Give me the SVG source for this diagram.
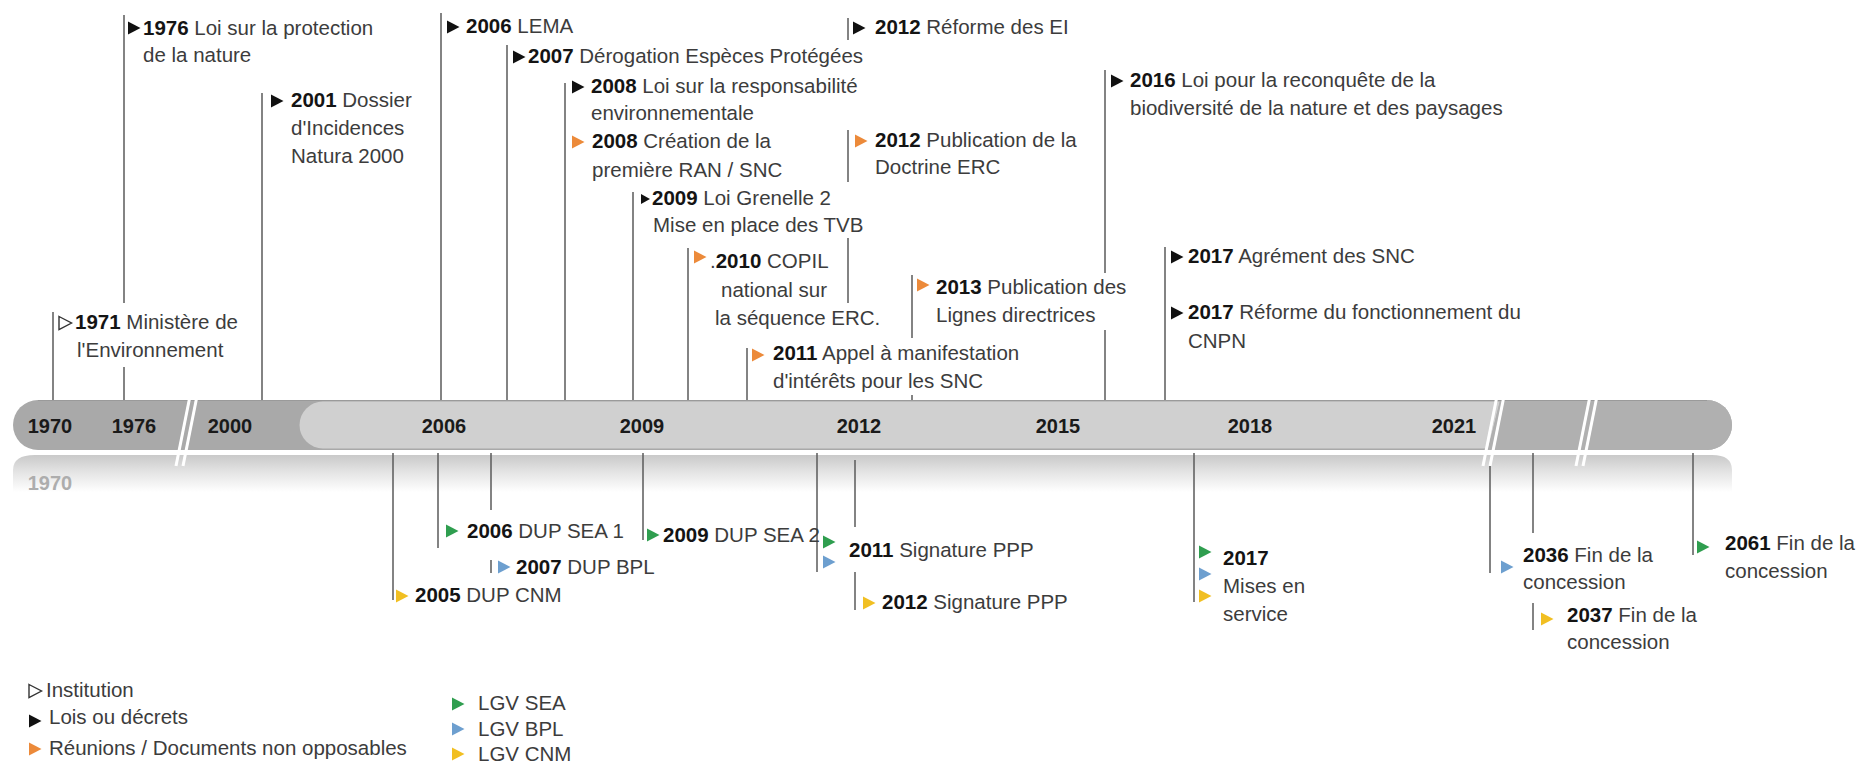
<svg xmlns="http://www.w3.org/2000/svg" width="1861" height="766" viewBox="0 0 1861 766">
<style>
text{font-family:"Liberation Sans",Arial,sans-serif;font-size:20.5px;fill:#3c3c3c}
.b{font-weight:bold;fill:#141414}
.yr{font-weight:bold;fill:#1a1a1a;font-size:20px;text-anchor:middle}
.ref{font-weight:bold;fill:#adadad;font-size:20px;text-anchor:middle}
.c line{stroke:#5a5a5a;stroke-width:1.5}
.k{fill:#111}
.o{fill:#ec8a3a}
.g{fill:#2f9e4f}
.bl{fill:#6d9fcf}
.y{fill:#f1bf22}
.h{fill:#fff;stroke:#333;stroke-width:1.4}
.brk{stroke:#fff;stroke-width:3}
</style>
<defs>
<path id="tri" d="M0 -6.5 L12.5 0 L0 6.5 Z"/>
<path id="trs" d="M0 -5 L9 0 L0 5 Z"/>
<linearGradient id="refl" x1="0" y1="0" x2="0" y2="1">
<stop offset="0" stop-color="#c9c9c9"/>
<stop offset="0.5" stop-color="#e6e6e6"/>
<stop offset="1" stop-color="#ffffff"/>
</linearGradient>
</defs>
<rect width="1861" height="766" fill="#fff"/>

<g id="timeline-bar">
<path d="M35 455 H1712 Q1732 455 1732 470 V492 H13 V470 Q13 455 35 455 Z" fill="url(#refl)"/>
<rect x="13" y="400" width="1719" height="50" rx="25" fill="#a9a9a9"/>
<path d="M323 401.5 H1500 L1488 448.5 H323 A23.5 23.5 0 0 1 323 401.5 Z" fill="#d0d0d0"/>
<path d="M1500 400 H1707 A25 25 0 0 1 1707 450 H1488 Z" fill="#b0b0b0"/>
<line x1="38" y1="400.5" x2="1707" y2="400.5" stroke="#9a9a9a" stroke-width="1"/>
<line class="brk" x1="190" y1="396" x2="176" y2="466"/>
<line class="brk" x1="197" y1="396" x2="183" y2="466"/>
<line class="brk" x1="1497" y1="396" x2="1483" y2="466"/>
<line class="brk" x1="1504" y1="396" x2="1490" y2="466"/>
<line class="brk" x1="1590" y1="396" x2="1576" y2="466"/>
<line class="brk" x1="1597" y1="396" x2="1583" y2="466"/>
<text class="yr" x="50" y="433">1970</text>
<text class="yr" x="134" y="433">1976</text>
<text class="yr" x="230" y="433">2000</text>
<text class="yr" x="444" y="433">2006</text>
<text class="yr" x="642" y="433">2009</text>
<text class="yr" x="859" y="433">2012</text>
<text class="yr" x="1058" y="433">2015</text>
<text class="yr" x="1250" y="433">2018</text>
<text class="yr" x="1454" y="433">2021</text>
<text class="ref" x="50" y="490">1970</text>
</g>

<g id="connectors" class="c">
<line x1="53" y1="312" x2="53" y2="400"/>
<line x1="124" y1="15" x2="124" y2="303"/>
<line x1="124" y1="367" x2="124" y2="400"/>
<line x1="262" y1="93" x2="262" y2="400"/>
<line x1="441" y1="13" x2="441" y2="400"/>
<line x1="507" y1="45" x2="507" y2="400"/>
<line x1="565" y1="83" x2="565" y2="400"/>
<line x1="633" y1="192" x2="633" y2="400"/>
<line x1="688" y1="248" x2="688" y2="400"/>
<line x1="747" y1="348" x2="747" y2="400"/>
<line x1="848" y1="18" x2="848" y2="40"/>
<line x1="848" y1="130" x2="848" y2="182"/>
<line x1="848" y1="238" x2="848" y2="303"/>
<line x1="912" y1="275" x2="912" y2="338"/>
<line x1="912" y1="395" x2="912" y2="400"/>
<line x1="1105" y1="70" x2="1105" y2="273"/>
<line x1="1105" y1="330" x2="1105" y2="400"/>
<line x1="1165" y1="247" x2="1165" y2="400"/>
<line x1="393" y1="453" x2="393" y2="600"/>
<line x1="438" y1="453" x2="438" y2="548"/>
<line x1="491" y1="453" x2="491" y2="510"/>
<line x1="491" y1="560" x2="491" y2="573"/>
<line x1="643" y1="453" x2="643" y2="540"/>
<line x1="817" y1="453" x2="817" y2="572"/>
<line x1="855" y1="460" x2="855" y2="527"/>
<line x1="855" y1="572" x2="855" y2="610"/>
<line x1="1194" y1="453" x2="1194" y2="602"/>
<line x1="1490" y1="466" x2="1490" y2="573"/>
<line x1="1533" y1="453" x2="1533" y2="533"/>
<line x1="1533" y1="603" x2="1533" y2="630"/>
<line x1="1693" y1="453" x2="1693" y2="555"/>
</g>

<g id="n1971"><use href="#tri" x="59" y="323" class="h"/><text x="75" y="329"><tspan class="b">1971</tspan> Ministère de</text><text x="77" y="357">l'Environnement</text></g>
<g id="n1976"><use href="#tri" x="128" y="28" class="k"/><text x="143" y="35"><tspan class="b">1976</tspan> Loi sur la protection</text><text x="143" y="62">de la nature</text></g>
<g id="n2001"><use href="#tri" x="271" y="101" class="k"/><text x="291" y="107"><tspan class="b">2001</tspan> Dossier</text><text x="291" y="135">d'Incidences</text><text x="291" y="163">Natura 2000</text></g>
<g id="n2006"><use href="#tri" x="447" y="27" class="k"/><text x="466" y="33"><tspan class="b">2006</tspan> LEMA</text></g>
<g id="n2007"><use href="#tri" x="513" y="57" class="k"/><text x="528" y="63"><tspan class="b">2007</tspan> Dérogation Espèces Protégées</text></g>
<g id="n2008a"><use href="#tri" x="572" y="87" class="k"/><text x="591" y="93"><tspan class="b">2008</tspan> Loi sur la responsabilité</text><text x="591" y="120">environnementale</text></g>
<g id="n2008b"><use href="#tri" x="572" y="142" class="o"/><text x="592" y="148"><tspan class="b">2008</tspan> Création de la</text><text x="592" y="177">première RAN / SNC</text></g>
<g id="n2009"><use href="#trs" x="641" y="199" class="k"/><text x="652" y="205"><tspan class="b">2009</tspan> Loi Grenelle 2</text><text x="653" y="232">Mise en place des TVB</text></g>
<g id="n2010"><use href="#tri" x="694" y="257" class="o"/><text x="710" y="268">.<tspan class="b">2010</tspan> COPIL</text><text x="721" y="297">national sur</text><text x="715" y="325">la séquence ERC.</text></g>
<g id="n2011"><use href="#tri" x="752" y="355" class="o"/><text x="773" y="360"><tspan class="b">2011</tspan> Appel à manifestation</text><text x="773" y="388">d'intérêts pour les SNC</text></g>
<g id="n2012a"><use href="#tri" x="853" y="28" class="k"/><text x="875" y="34"><tspan class="b">2012</tspan> Réforme des EI</text></g>
<g id="n2012b"><use href="#tri" x="855" y="141" class="o"/><text x="875" y="147"><tspan class="b">2012</tspan> Publication de la</text><text x="875" y="174">Doctrine ERC</text></g>
<g id="n2013"><use href="#tri" x="917" y="285" class="o"/><text x="936" y="294"><tspan class="b">2013</tspan> Publication des</text><text x="936" y="322">Lignes directrices</text></g>
<g id="n2016"><use href="#tri" x="1111" y="81" class="k"/><text x="1130" y="87"><tspan class="b">2016</tspan> Loi pour la reconquête de la</text><text x="1130" y="115">biodiversité de la nature et des paysages</text></g>
<g id="n2017a"><use href="#tri" x="1171" y="257" class="k"/><text x="1188" y="263"><tspan class="b">2017</tspan> Agrément des SNC</text></g>
<g id="n2017b"><use href="#tri" x="1171" y="313" class="k"/><text x="1188" y="319"><tspan class="b">2017</tspan> Réforme du fonctionnement du</text><text x="1188" y="348">CNPN</text></g>

<g id="d2005"><use href="#tri" x="396" y="596" class="y"/><text x="415" y="602"><tspan class="b">2005</tspan> DUP CNM</text></g>
<g id="d2006"><use href="#tri" x="446" y="531" class="g"/><text x="467" y="538"><tspan class="b">2006</tspan> DUP SEA 1</text></g>
<g id="d2007"><use href="#tri" x="498" y="567" class="bl"/><text x="516" y="574"><tspan class="b">2007</tspan> DUP BPL</text></g>
<g id="d2009"><use href="#tri" x="647" y="535" class="g"/><text x="663" y="542"><tspan class="b">2009</tspan> DUP SEA 2</text></g>
<g id="d2011"><use href="#tri" x="823" y="542" class="g"/><use href="#tri" x="823" y="562" class="bl"/><text x="849" y="557"><tspan class="b">2011</tspan> Signature PPP</text></g>
<g id="d2012"><use href="#tri" x="863" y="603" class="y"/><text x="882" y="609"><tspan class="b">2012</tspan> Signature PPP</text></g>
<g id="d2017"><use href="#tri" x="1199" y="552" class="g"/><use href="#tri" x="1199" y="574" class="bl"/><use href="#tri" x="1199" y="596" class="y"/><text x="1223" y="565" class="b">2017</text><text x="1223" y="593">Mises en</text><text x="1223" y="621">service</text></g>
<g id="d2036"><use href="#tri" x="1501" y="567" class="bl"/><text x="1523" y="562"><tspan class="b">2036</tspan> Fin de la</text><text x="1523" y="589">concession</text></g>
<g id="d2037"><use href="#tri" x="1541" y="619" class="y"/><text x="1567" y="622"><tspan class="b">2037</tspan> Fin de la</text><text x="1567" y="649">concession</text></g>
<g id="d2061"><use href="#tri" x="1697" y="547" class="g"/><text x="1725" y="550"><tspan class="b">2061</tspan> Fin de la</text><text x="1725" y="578">concession</text></g>

<g id="legend">
<use href="#tri" x="29" y="691" class="h"/><text x="46" y="697">Institution</text>
<use href="#tri" x="29" y="721" class="k"/><text x="49" y="724">Lois ou décrets</text>
<use href="#tri" x="29" y="749" class="o"/><text x="49" y="755">Réunions / Documents non opposables</text>
<use href="#tri" x="452" y="704" class="g"/><text x="478" y="710">LGV SEA</text>
<use href="#tri" x="452" y="729" class="bl"/><text x="478" y="736">LGV BPL</text>
<use href="#tri" x="452" y="754" class="y"/><text x="478" y="761">LGV CNM</text>
</g>
</svg>
